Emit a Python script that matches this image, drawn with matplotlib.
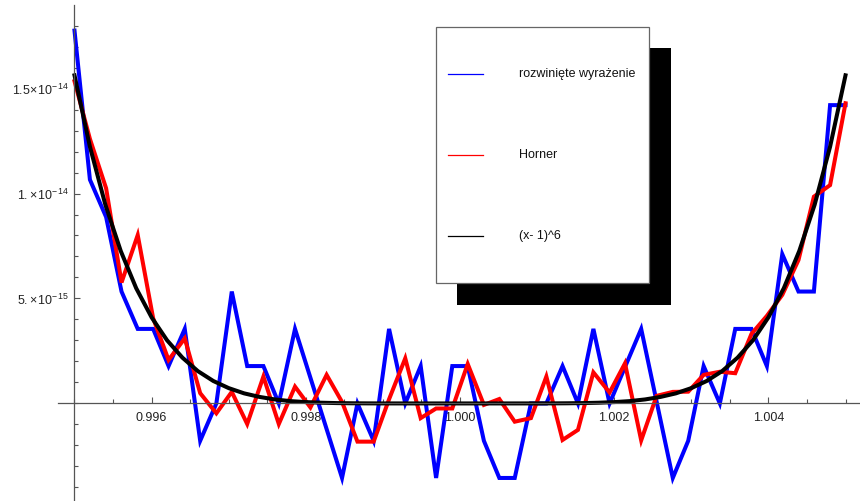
import numpy as np
import matplotlib
matplotlib.use("Agg")
import matplotlib.pyplot as plt
from matplotlib.patches import Rectangle
from matplotlib.lines import Line2D
from matplotlib.ticker import FixedLocator, FixedFormatter, MultipleLocator

# wartości y w jednostkach 1e-15
E15 = 1e-15

# siatka punktów (50 punktów na [0.995, 1.005])
siatka_x = [0.99500, 0.99520, 0.99541, 0.99561, 0.99582, 0.99602, 0.99622, 0.99643,
            0.99663, 0.99684, 0.99704, 0.99724, 0.99745, 0.99765, 0.99786, 0.99806,
            0.99827, 0.99847, 0.99867, 0.99888, 0.99908, 0.99929, 0.99949, 0.99969,
            0.99990, 1.00010, 1.00031, 1.00051, 1.00071, 1.00092, 1.00112, 1.00133,
            1.00153, 1.00173, 1.00194, 1.00214, 1.00235, 1.00255, 1.00276, 1.00296,
            1.00316, 1.00337, 1.00357, 1.00378, 1.00398, 1.00418, 1.00439, 1.00459,
            1.00480, 1.00500]

horner = [15.35, 12.6, 10.25, 5.76, 8.02, 4.06, 2.07, 3.1, 0.49, -0.47,
          0.55, -0.98, 1.28, -0.98, 0.8, -0.19, 1.36, 0.07, -1.82, -1.82,
          0.2, 2.15, -0.70, -0.24, -0.24, 1.88, -0.07, 0.21, -0.87, -0.70,
          1.28, -1.74, -1.26, 1.48, 0.52, 1.91, -1.76, 0.36, 0.55, 0.56,
          1.36, 1.51, 1.44, 3.31, 4.17, 5.17, 6.83, 9.85, 10.4, 14.3]

# wierzchołki łamanej dla rozwiniętego wyrażenia
rozw_x = [0.99500, 0.99520, 0.99541, 0.99561, 0.99582, 0.99602, 0.99622, 0.99643,
          0.99663, 0.99684, 0.99704, 0.99724, 0.99745, 0.99765, 0.99786,
          0.99847, 0.99867, 0.99888, 0.99908, 0.99929, 0.99949, 0.99969, 0.99990,
          1.00010, 1.00031, 1.00051, 1.00071, 1.00092, 1.00112, 1.00133, 1.00153,
          1.00173, 1.00194,
          1.00235, 1.00276, 1.00296, 1.00316, 1.00337, 1.00357, 1.00378, 1.00398,
          1.00418, 1.00439, 1.00459, 1.00480, 1.00500]
rozw = [17.76, 10.66, 8.88, 5.33, 3.55, 3.55, 1.78, 3.55, -1.78, 0.0,
        5.33, 1.78, 1.78, 0.0, 3.55,
        -3.55, 0.0, -1.78, 3.55, 0.0, 1.78, -3.55, 1.78,
        1.78, -1.78, -3.55, -3.55, 0.0, 0.0, 1.78, 0.0,
        3.55, 0.0,
        3.55, -3.55, -1.78, 1.78, 0.0, 3.55, 3.55, 1.78,
        7.11, 5.33, 5.33, 14.21, 14.21]

# (x-1)^6 na siatce co 0.0002
dok_x = [0.9950, 0.9952, 0.9954, 0.9956, 0.9958, 0.9960, 0.9962, 0.9964, 0.9966,
         0.9968, 0.9970, 0.9972, 0.9974, 0.9976, 0.9978, 0.9980, 0.9982, 0.9984,
         0.9986, 0.9988, 0.9990, 0.9992, 0.9994, 0.9996, 0.9998, 1.0000, 1.0002,
         1.0004, 1.0006, 1.0008, 1.0010, 1.0012, 1.0014, 1.0016, 1.0018, 1.0020,
         1.0022, 1.0024, 1.0026, 1.0028, 1.0030, 1.0032, 1.0034, 1.0036, 1.0038,
         1.0040, 1.0042, 1.0044, 1.0046, 1.0048, 1.0050]
dok = [15.63, 12.23, 9.47, 7.26, 5.49, 4.10, 3.01, 2.18, 1.54, 1.07, 0.73, 0.48,
       0.31, 0.19, 0.11, 0.064, 0.034, 0.017, 0.0075, 0.003, 0.001, 0.0003,
       0.00005, 0.0, 0.0, 0.0, 0.0, 0.0, 0.00005, 0.0003, 0.001, 0.003, 0.0075,
       0.017, 0.034, 0.064, 0.11, 0.19, 0.31, 0.48, 0.73, 1.07, 1.54, 2.18, 3.01,
       4.10, 5.49, 7.26, 9.47, 12.23, 15.63]

xticks = [0.996, 0.998, 1.000, 1.002, 1.004]
xtick_labels = ["0.996", "0.998", "1.000", "1.002", "1.004"]
yticks = [5e-15, 1e-14, 1.5e-14]
ytick_labels = [r"$5.\!\times\!10^{-\,15}$", r"$1.\!\times\!10^{-\,14}$",
                r"$1.5\!\times\!10^{-\,14}$"]

etykiety = ["rozwinięte wyrażenie", "Horner", "(x- 1)^6"]
kolory = ["#0000ff", "#ff0000", "#000000"]

plt.rcParams["font.family"] = ["Liberation Sans", "DejaVu Sans"]
plt.rcParams["mathtext.fontset"] = "custom"
plt.rcParams["mathtext.rm"] = "Liberation Sans"
plt.rcParams["mathtext.it"] = "Liberation Sans:italic"

W, H = 860, 501
fig = plt.figure(figsize=(W / 100, H / 100), dpi=100)
ax = fig.add_axes([58 / W, 1 / H, (W - 58) / W, 495 / H])
ax.set_xlim(0.994786, 1.005188)
ax.set_ylim(-4.6e-15, 18.98e-15)

lw = 2.9
ax.plot(rozw_x, np.array(rozw) * E15, color=kolory[0], lw=lw, solid_joinstyle="miter")
ax.plot(siatka_x, np.array(horner) * E15, color=kolory[1], lw=lw, solid_joinstyle="miter")
ax.plot(dok_x, np.array(dok) * E15, color=kolory[2], lw=lw)

# osie w stylu Mathematiki: przecinają się w (0.995, 0)
for s in ("top", "right"):
    ax.spines[s].set_visible(False)
ax.spines["left"].set_position(("data", 0.995))
ax.spines["bottom"].set_position(("data", 0))
for s in ("left", "bottom"):
    ax.spines[s].set_color("#555555")
    ax.spines[s].set_linewidth(0.9)

ax.xaxis.set_major_locator(FixedLocator(xticks))
ax.xaxis.set_major_formatter(FixedFormatter(xtick_labels))
ax.xaxis.set_minor_locator(MultipleLocator(0.0005))
ax.yaxis.set_major_locator(FixedLocator(yticks))
ax.yaxis.set_major_formatter(FixedFormatter(ytick_labels))
ax.yaxis.set_minor_locator(MultipleLocator(1e-15))
ax.tick_params(which="both", direction="in", color="#555555", width=0.8,
               labelsize=9, labelcolor="#222222")
ax.tick_params(which="major", length=4.5)
ax.tick_params(which="minor", length=2.6)
ax.tick_params(axis="x", pad=6)
ax.tick_params(axis="y", pad=4)
ax.patch.set_visible(False)

# legenda z cieniem
def px(x, y):
    return x / W, 1 - y / H

cx, cy = px(456.7, 305)
fig.add_artist(Rectangle((cx, cy), 214 / W, 256.7 / H, transform=fig.transFigure,
                         facecolor="black", edgecolor="none"))
bx, by = px(436, 283.3)
fig.add_artist(Rectangle((bx, by), 213.3 / W, 256 / H, transform=fig.transFigure,
                         facecolor="white", edgecolor="#666666", lw=0.9))
for yy, tekst, kol in zip([74, 155.3, 236], etykiety, kolory):
    x0, y0 = px(448, yy)
    x1, _ = px(483, yy)
    fig.add_artist(Line2D([x0, x1], [y0, y0], transform=fig.transFigure,
                          color=kol, lw=0.9))
    tx, _ = px(519, yy)
    fig.text(tx, y0, tekst, fontsize=9, va="center", ha="left", color="#111111")

fig.savefig("out.png", dpi=100)
